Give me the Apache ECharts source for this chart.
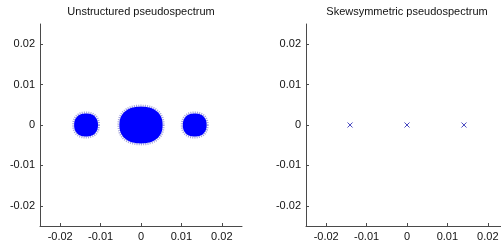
<!DOCTYPE html>
<html>
<head>
<meta charset="utf-8">
<script src="https://cdn.jsdelivr.net/npm/echarts@6/dist/echarts.min.js"></script>
<style>
html,body{margin:0;padding:0;background:#fff;}
#main{width:501px;height:242px;}
</style>
</head>
<body>
<div id="main"></div>
<script>
// titles
var titles = ['Unstructured pseudospectrum', 'Skewsymmetric pseudospectrum'];
// axis ticks (both axes, both panels)
var tickValues = [-0.02, -0.01, 0, 0.01, 0.02];
var axisMin = -0.025, axisMax = 0.025;

// unstructured: perturbed eigenvalue clouds [centre x, centre y, half width, half height]
var blobX = [-0.0136, 0.0000, 0.0133];
var blobY = [0, 0, 0];
var blobRx = [0.0032, 0.0056, 0.0032];
var blobRy = [0.0031, 0.0048, 0.0031];

// skewsymmetric: eigenvalues
var eigX = [-0.0141, 0, 0.0141];
var eigY = [0, 0, 0];

var blobData = [];
for (var i = 0; i < blobX.length; i++) {
    blobData.push([blobX[i], blobY[i], blobRx[i], blobRy[i]]);
}
var eigData = [];
for (var j = 0; j < eigX.length; j++) {
    eigData.push([eigX[j], eigY[j]]);
}

var axisColor = '#4a4a4a';
var font = 'Liberation Sans, Arial, sans-serif';

function makeAxis(idx, dim) {
    return {
        type: 'value',
        gridIndex: idx,
        min: axisMin,
        max: axisMax,
        position: dim === 'x' ? 'bottom' : 'left',
        splitLine: {show: false},
        axisLine: {show: true, onZero: false, lineStyle: {color: axisColor, width: 1}},
        axisTick: {show: true, inside: true, length: 3, customValues: tickValues, lineStyle: {color: axisColor}},
        axisLabel: {
            customValues: tickValues,
            color: '#111',
            fontFamily: font,
            fontSize: 11,
            margin: 5,
            formatter: function (v) { return v === 0 ? '0' : (Math.round(v * 100) / 100).toString(); }
        }
    };
}

// outline of a rounded (superellipse) cloud around centre c with pixel half sizes w, h
function cloudOutline(c, w, h) {
    var pts = [];
    var n = 2.3;
    for (var k = 0; k < 72; k++) {
        var t = k / 72 * Math.PI * 2;
        var ct = Math.cos(t), st = Math.sin(t);
        pts.push([
            c[0] + w * (ct < 0 ? -1 : 1) * Math.pow(Math.abs(ct), 2 / n),
            c[1] + h * (st < 0 ? -1 : 1) * Math.pow(Math.abs(st), 2 / n)
        ]);
    }
    return pts;
}

var myChart = echarts.init(document.getElementById('main'));
var option = {
    animation: false,
    backgroundColor: '#fff',
    grid: [
        {left: 40, top: 24, width: 202, height: 202, outerBoundsMode: 'none'},
        {left: 306, top: 24, width: 202, height: 202, outerBoundsMode: 'none'}
    ],
    xAxis: [makeAxis(0, 'x'), makeAxis(1, 'x')],
    yAxis: [makeAxis(0, 'y'), makeAxis(1, 'y')],
    graphic: [
        {type: 'text', x: 141, y: 12, style: {text: titles[0], textAlign: 'center', textVerticalAlign: 'middle', fill: '#111', font: '11px ' + font}},
        {type: 'text', x: 407, y: 12, style: {text: titles[1], textAlign: 'center', textVerticalAlign: 'middle', fill: '#111', font: '11px ' + font}}
    ],
    series: [
        {
            type: 'custom',
            xAxisIndex: 0,
            yAxisIndex: 0,
            data: blobData,
            encode: {x: 0, y: 1},
            renderItem: function (params, api) {
                var c = api.coord([api.value(0), api.value(1)]);
                var s = api.size([api.value(2), api.value(3)]);
                var w = Math.abs(s[0]), h = Math.abs(s[1]);
                return {
                    type: 'group',
                    children: [
                        {type: 'polygon', shape: {points: cloudOutline(c, w, h)},
                            style: {fill: 'none', stroke: 'rgba(80,80,190,0.55)', lineWidth: 2, lineDash: [1, 1.2]}},
                        {type: 'polygon', shape: {points: cloudOutline(c, w - 1, h - 1)},
                            style: {fill: '#0000ff'}}
                    ]
                };
            }
        },
        {
            type: 'scatter',
            xAxisIndex: 1,
            yAxisIndex: 1,
            data: eigData,
            symbol: 'path://M0,0L10,10M10,0L0,10',
            symbolSize: 5,
            itemStyle: {color: 'none', borderColor: '#1a1ab0', borderWidth: 1}
        }
    ]
};
myChart.setOption(option);
</script>
</body>
</html>
